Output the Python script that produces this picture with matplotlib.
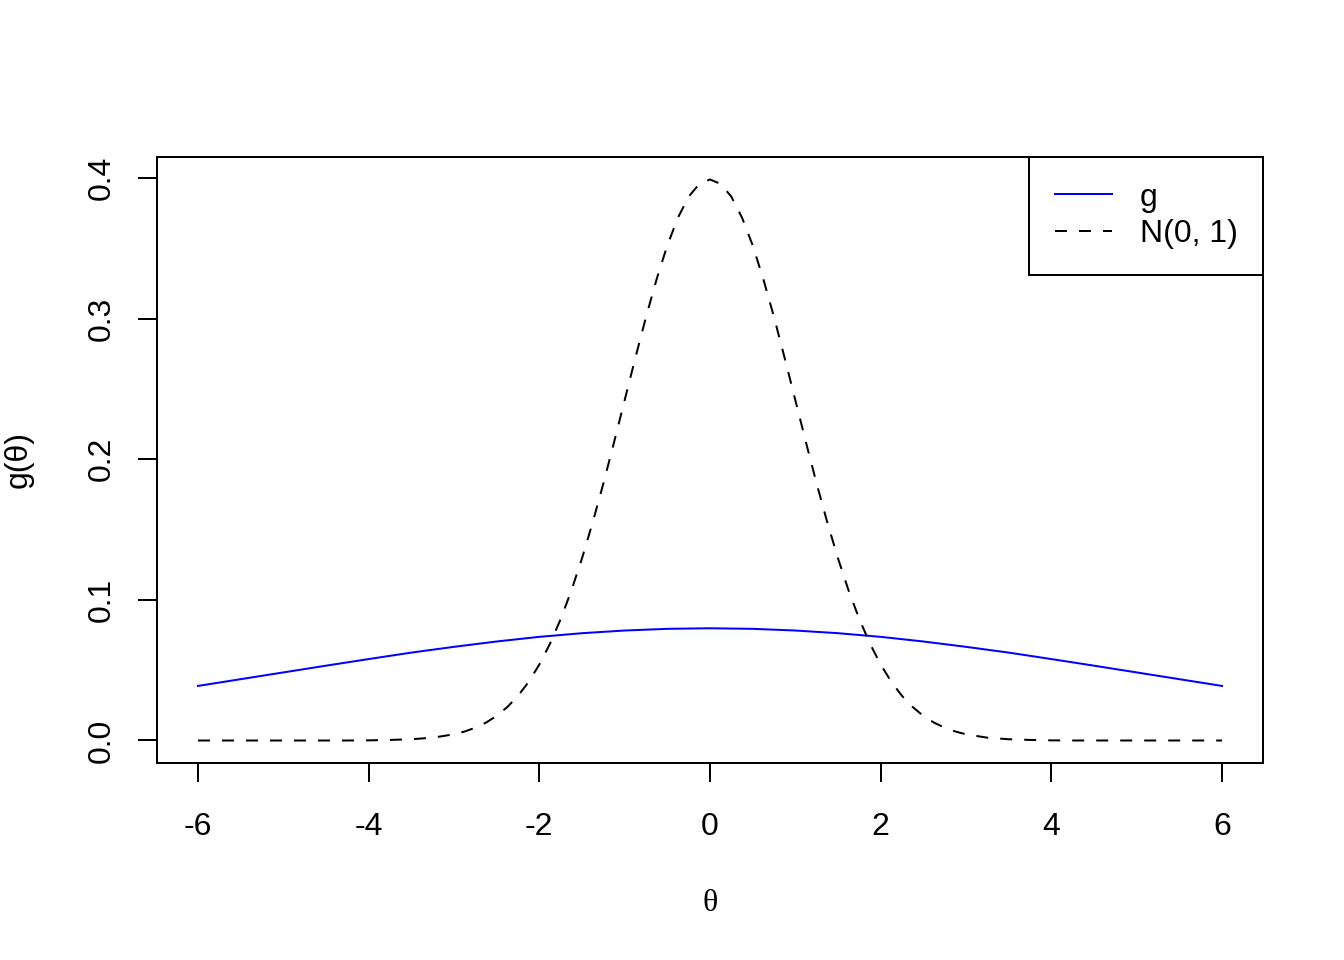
import matplotlib.pyplot as plt

# values
theta_n = [-6, -5.5, -5, -4.5, -4.25, -4, -3.75, -3.5, -3.25, -3, -2.875, -2.75,
           -2.625, -2.5, -2.375, -2.25, -2.125, -2, -1.875, -1.75, -1.625, -1.5,
           -1.375, -1.25, -1.125, -1, -0.875, -0.75, -0.625, -0.5, -0.375, -0.25,
           -0.125, 0, 0.125, 0.25, 0.375, 0.5, 0.625, 0.75, 0.875, 1, 1.125, 1.25,
           1.375, 1.5, 1.625, 1.75, 1.875, 2, 2.125, 2.25, 2.375, 2.5, 2.625, 2.75,
           2.875, 3, 3.25, 3.5, 3.75, 4, 4.25, 4.5, 5, 5.5, 6]
dens_n = [0.0, 0.0, 0.0, 0.0, 0.0, 0.0001, 0.0004, 0.0009, 0.0020, 0.0044, 0.0064,
          0.0091, 0.0127, 0.0175, 0.0238, 0.0317, 0.0417, 0.0540, 0.0688, 0.0863,
          0.1065, 0.1295, 0.1550, 0.1826, 0.2119, 0.2420, 0.2720, 0.3011, 0.3281,
          0.3521, 0.3718, 0.3867, 0.3958, 0.3989, 0.3958, 0.3867, 0.3718, 0.3521,
          0.3281, 0.3011, 0.2720, 0.2420, 0.2119, 0.1826, 0.1550, 0.1295, 0.1065,
          0.0863, 0.0688, 0.0540, 0.0417, 0.0317, 0.0238, 0.0175, 0.0127, 0.0091,
          0.0064, 0.0044, 0.0020, 0.0009, 0.0004, 0.0001, 0.0, 0.0, 0.0, 0.0, 0.0]

theta_g = [-6, -5.5, -5, -4.5, -4, -3.5, -3, -2.5, -2, -1.5, -1, -0.5,
           0, 0.5, 1, 1.5, 2, 2.5, 3, 3.5, 4, 4.5, 5, 5.5, 6]
dens_g = [0.0388, 0.0436, 0.0484, 0.0532, 0.0579, 0.0625, 0.0666, 0.0704, 0.0737,
          0.0763, 0.0782, 0.0794, 0.0798, 0.0794, 0.0782, 0.0763, 0.0737, 0.0704,
          0.0666, 0.0625, 0.0579, 0.0532, 0.0484, 0.0436, 0.0388]

xticks = [-6, -4, -2, 0, 2, 4, 6]
yticks = [0.0, 0.1, 0.2, 0.3, 0.4]

plt.rcParams['font.family'] = ['Liberation Sans', 'DejaVu Sans']

fig = plt.figure(figsize=(7, 5), dpi=192)
ax = fig.add_axes([157/1344, 1 - 763/960, (1263 - 157)/1344, (763 - 157)/960])

ax.plot(theta_g, dens_g, color='blue', lw=0.75, label='g')
ax.plot(theta_n, dens_n, color='black', lw=0.75, dashes=(6, 6), label='N(0, 1)')

ax.set_xlim(-6.48, 6.48)
ax.set_ylim(-0.016, 0.4149)

for s in ax.spines.values():
    s.set_visible(False)
# box round the plot region, like R
rect = plt.Rectangle((0, 0), 1, 1, transform=ax.transAxes, fill=False,
                     edgecolor='black', lw=0.75, clip_on=False)
ax.add_patch(rect)

ax.set_xticks(xticks)
ax.set_xticklabels([str(t) for t in xticks])
ax.set_yticks(yticks)
ax.set_yticklabels(['0.0', '0.1', '0.2', '0.3', '0.4'], rotation=90, va='center')
ax.tick_params(direction='out', length=7, width=0.75, labelsize=12)
ax.tick_params(axis='x', pad=11.4)
ax.tick_params(axis='y', pad=8)

ax.set_xlabel('θ', fontsize=12, family='Liberation Serif', labelpad=17.6)
ax.set_ylabel('g(θ)', fontsize=12, labelpad=20)

leg = ax.legend(loc='upper right', borderaxespad=0, fancybox=False,
                edgecolor='black', framealpha=1, fontsize=12,
                handlelength=1.78, handletextpad=0.87, borderpad=0.8,
                labelspacing=0.2)
leg.get_frame().set_linewidth(0.75)

fig.savefig('out.png', dpi=192)
